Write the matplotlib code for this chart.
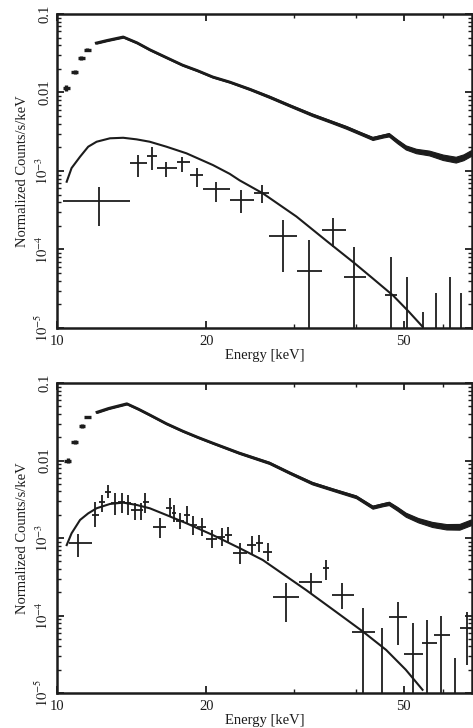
import numpy as np
import matplotlib
matplotlib.use('Agg')
import matplotlib.pyplot as plt
from matplotlib.ticker import FixedLocator, NullFormatter, LogLocator

plt.rcParams['font.family'] = ['Liberation Serif', 'DejaVu Serif']
plt.rcParams['mathtext.fontset'] = 'stix'

INK = '#1c1c1c'

# ---- top panel -------------------------------------------------------------
# bright source spectrum (energy keV, counts/s/keV, fractional band half-width)
top_src_E = [10.45, 10.85, 11.2, 11.5, 12.0, 12.6, 13.6, 14.5, 15.4, 16.6, 17.9, 19.2,
             20.6, 22.3, 24.5, 26.8, 29.5, 32.7, 35.5, 38.3, 41.0, 43.3, 45.5, 46.7,
             48.5, 50.5, 53.0, 56.3, 60.0, 63.7, 66.0, 68.4]
top_src_y = [0.0114, 0.0182, 0.0275, 0.035, 0.0427, 0.046, 0.051, 0.043, 0.035, 0.028,
             0.0224, 0.019, 0.0158, 0.0136, 0.011, 0.0088, 0.0068, 0.0052, 0.0043,
             0.0036, 0.0030, 0.0026, 0.0028, 0.0029, 0.0024, 0.0020, 0.0018, 0.0017,
             0.0015, 0.0014, 0.0015, 0.0017]
top_src_spread = [0.08, 0.06, 0.05, 0.04, 0.02, 0.02, 0.02, 0.02, 0.02, 0.02, 0.02, 0.02,
                  0.02, 0.02, 0.025, 0.03, 0.03, 0.035, 0.035, 0.04, 0.04, 0.045, 0.045,
                  0.05, 0.055, 0.06, 0.065, 0.07, 0.08, 0.085, 0.085, 0.085]

# model curve
top_mod_E = [10.46, 10.70, 11.13, 11.56, 12.02, 12.79, 13.60, 14.47, 15.38, 16.62, 18.24,
             20.63, 22.3, 23.35, 26.0, 30.4, 35.0, 39.8, 43.3, 47.6, 51.3, 54.6]
top_mod_y = [7.3e-4, 1.09e-3, 1.52e-3, 2.04e-3, 2.36e-3, 2.61e-3, 2.65e-3, 2.53e-3,
             2.36e-3, 2.04e-3, 1.68e-3, 1.19e-3, 9.2e-4, 7.6e-4, 5.2e-4, 2.63e-4,
             1.28e-4, 6.7e-5, 4.3e-5, 2.6e-5, 1.6e-5, 1.04e-5]

# faint source data points: centre, bin edges, value, error limits
top_dat_E = [12.15, 14.55, 15.52, 16.57, 17.84, 19.12, 20.97, 23.54, 25.85, 28.6, 32.3,
             36.1, 39.8, 47.2, 50.9, 54.6, 58.1, 61.9, 65.3]
top_dat_xlo = [10.28, 14.03, 15.17, 15.89, 17.45, 18.52, 19.67, 22.3, 25.0, 26.8, 30.5,
               34.3, 37.9, 45.8, 50.9, 54.6, 58.1, 61.9, 65.3]
top_dat_xhi = [14.03, 15.17, 15.89, 17.45, 18.52, 19.67, 22.3, 25.0, 26.8, 30.5, 34.3,
               38.3, 42.0, 48.5, 50.9, 54.6, 58.1, 61.9, 65.3]
top_dat_y = [4.15e-4, 1.26e-3, 1.55e-3, 1.09e-3, 1.30e-3, 8.9e-4, 5.9e-4, 4.3e-4, 5.2e-4,
             1.49e-4, 5.3e-5, 1.77e-4, 4.5e-5, 2.6e-5, 5e-6, 5e-6, 5e-6, 5e-6, 5e-6]
top_dat_ylo = [2.0e-4, 8.4e-4, 1.03e-3, 8.4e-4, 9.7e-4, 6.25e-4, 4.0e-4, 2.9e-4, 3.9e-4,
               5.2e-5, 5e-6, 1.08e-4, 5e-6, 5e-6, 5e-6, 5e-6, 5e-6, 5e-6, 5e-6]
top_dat_yhi = [6.25e-4, 1.60e-3, 2.02e-3, 1.30e-3, 1.51e-3, 1.09e-3, 7.2e-4, 5.7e-4, 6.6e-4,
               2.4e-4, 1.32e-4, 2.5e-4, 1.08e-4, 8.0e-5, 4.4e-5, 1.6e-5, 2.8e-5, 4.5e-5, 2.8e-5]

# ---- bottom panel ----------------------------------------------------------
bot_src_E = [10.52, 10.87, 11.23, 11.54, 12.04, 12.7, 13.83, 14.6, 15.39, 16.6, 17.92, 19.2,
             20.6, 23.3, 26.8, 29.5, 32.7, 36.0, 40.1, 43.3, 45.5, 46.7, 48.5, 50.5,
             53.5, 57.1, 61.0, 64.8, 68.4]
bot_src_y = [0.0100, 0.0173, 0.028, 0.0365, 0.042, 0.047, 0.054, 0.046, 0.0387, 0.030,
             0.024, 0.020, 0.0168, 0.0125, 0.0093, 0.0069, 0.0051, 0.0042, 0.0034, 0.0025,
             0.0027, 0.0028, 0.0024, 0.0020, 0.0017, 0.0015, 0.0014, 0.0014, 0.0016]
bot_src_spread = [0.08, 0.06, 0.05, 0.04, 0.02, 0.02, 0.02, 0.02, 0.02, 0.02, 0.02, 0.02,
                  0.02, 0.025, 0.03, 0.03, 0.035, 0.035, 0.04, 0.045, 0.045, 0.05, 0.055,
                  0.06, 0.065, 0.075, 0.08, 0.085, 0.085]

bot_mod_E = [10.46, 10.70, 11.13, 11.56, 12.02, 12.79, 13.60, 14.47, 15.38, 16.62, 18.24,
             20.63, 23.35, 26.0, 31.8, 36.5, 41.4, 46.1, 50.5, 54.6]
bot_mod_y = [8.1e-4, 1.15e-3, 1.71e-3, 2.08e-3, 2.42e-3, 2.75e-3, 2.86e-3, 2.67e-3,
             2.42e-3, 1.98e-3, 1.55e-3, 1.09e-3, 7.4e-4, 5.2e-4, 2.13e-4, 1.12e-4,
             6.2e-5, 3.6e-5, 2.0e-5, 1.1e-5]

bot_dat_E = [11.02, 11.93, 12.32, 12.67, 13.08, 13.5, 13.9, 14.35, 14.75, 15.05, 16.1,
             16.9, 17.2, 17.7, 18.3, 18.8, 19.6, 20.5, 21.5, 22.1, 23.4, 24.7, 25.6, 26.6,
             29.0, 32.6, 34.9, 37.6, 41.4, 45.3, 48.8, 52.3, 55.7, 59.5, 63.5, 67.0]
bot_dat_xlo = [10.56, 11.76, 12.15, 12.5, 12.85, 13.3, 13.7, 14.1, 14.6, 14.9, 15.6,
               16.6, 17.05, 17.4, 18.0, 18.55, 19.2, 20.0, 21.0, 21.8, 22.6, 24.2, 25.2,
               26.0, 27.3, 30.8, 34.4, 35.8, 39.4, 45.3, 46.7, 50.2, 54.4, 57.7, 63.5, 64.9]
bot_dat_xhi = [11.76, 12.15, 12.5, 12.85, 13.3, 13.7, 14.1, 14.6, 14.9, 15.3, 16.6,
               17.05, 17.4, 18.0, 18.55, 19.2, 20.0, 21.0, 21.8, 22.5, 24.2, 25.2, 26.0,
               27.2, 30.7, 34.3, 35.4, 39.7, 43.7, 45.3, 50.9, 54.6, 58.3, 61.9, 63.5, 68.7]
bot_dat_y = [8.6e-4, 2.0e-3, 2.9e-3, 3.9e-3, 2.8e-3, 2.9e-3, 2.8e-3, 2.3e-3, 2.3e-3,
             2.9e-3, 1.4e-3, 2.44e-3, 2.1e-3, 1.65e-3, 2.0e-3, 1.47e-3, 1.39e-3, 9.7e-4,
             1.03e-3, 1.1e-3, 6.4e-4, 8.1e-4, 8.5e-4, 6.5e-4, 1.73e-4, 2.7e-4, 4.1e-4,
             1.84e-4, 6.1e-5, 5e-6, 9.6e-5, 3.2e-5, 4.4e-5, 5.6e-5, 5e-6, 6.9e-5]
bot_dat_ylo = [5.7e-4, 1.4e-3, 2.16e-3, 3.28e-3, 1.98e-3, 2.1e-3, 1.98e-3, 1.71e-3, 1.71e-3,
               2.1e-3, 1.0e-3, 1.87e-3, 1.6e-3, 1.3e-3, 1.5e-3, 1.1e-3, 1.05e-3, 7.5e-4,
               8.0e-4, 8.5e-4, 4.6e-4, 6.2e-4, 6.5e-4, 5.0e-4, 8.2e-5, 1.95e-4, 2.87e-4,
               1.2e-4, 5e-6, 5e-6, 4.2e-5, 5e-6, 5e-6, 5e-6, 5e-6, 2.3e-5]
bot_dat_yhi = [1.14e-3, 2.9e-3, 3.59e-3, 4.8e-3, 3.8e-3, 3.8e-3, 3.59e-3, 2.83e-3, 2.83e-3,
               3.8e-3, 1.8e-3, 3.28e-3, 2.7e-3, 2.1e-3, 2.6e-3, 1.9e-3, 1.8e-3, 1.25e-3,
               1.35e-3, 1.4e-3, 8.5e-4, 1.05e-3, 1.1e-3, 8.5e-4, 2.6e-4, 3.5e-4, 5.2e-4,
               2.6e-4, 1.25e-4, 6.9e-5, 1.49e-4, 8.0e-5, 8.7e-5, 1.0e-4, 2.8e-5, 1.11e-4]

x_major = [10, 20, 50]
x_major_labels = ['10', '20', '50']
x_minor = [30, 40, 60]
y_major = [1e-5, 1e-4, 1e-3, 1e-2, 1e-1]
y_major_labels = [r'$10^{-5}$', r'$10^{-4}$', r'$10^{-3}$', '0.01', '0.1']


def draw_panel(ax, src_E, src_y, spread, mod_E, mod_y, d_E, d_xlo, d_xhi, d_y, d_ylo, d_yhi):
    src_E = np.array(src_E)
    src_y = np.array(src_y)
    spread = np.array(spread)
    n_dash = 4  # first few bins are separated dashes
    ax.errorbar(src_E[:n_dash], src_y[:n_dash], xerr=src_E[:n_dash] * 0.016,
                yerr=src_y[:n_dash] * spread[:n_dash], fmt='none', ecolor=INK, elinewidth=2.4)
    ax.fill_between(src_E[n_dash:], src_y[n_dash:] * (1 - spread[n_dash:]),
                    src_y[n_dash:] * (1 + spread[n_dash:]), color=INK, lw=0.8)
    ax.plot(src_E[n_dash:], src_y[n_dash:], color=INK, lw=2.0)

    ax.plot(mod_E, mod_y, color=INK, lw=1.5)

    d_E = np.array(d_E)
    d_y = np.array(d_y)
    xerr = [d_E - np.array(d_xlo), np.array(d_xhi) - d_E]
    yerr = [d_y - np.array(d_ylo), np.array(d_yhi) - d_y]
    ax.errorbar(d_E, d_y, xerr=xerr, yerr=yerr, fmt='none', ecolor=INK, elinewidth=1.3)

    ax.set_xscale('log')
    ax.set_yscale('log')
    ax.set_xlim(10, 68.7)
    ax.set_ylim(1e-5, 0.1)

    ax.xaxis.set_major_locator(FixedLocator(x_major))
    ax.set_xticklabels(x_major_labels)
    ax.xaxis.set_minor_locator(FixedLocator(x_minor))
    ax.xaxis.set_minor_formatter(NullFormatter())
    ax.yaxis.set_major_locator(FixedLocator(y_major))
    ax.set_yticklabels(y_major_labels)
    ax.yaxis.set_minor_locator(LogLocator(base=10, subs=np.arange(2, 10)))
    ax.yaxis.set_minor_formatter(NullFormatter())

    ax.tick_params(which='both', direction='in', top=True, right=True, colors=INK,
                   labelsize=10.5)
    ax.tick_params(which='major', length=5, width=1.3)
    ax.tick_params(which='minor', length=3, width=1.0)
    ax.tick_params(axis='x', pad=5)
    ax.tick_params(axis='y', pad=4, labelrotation=90)
    for lab in ax.get_yticklabels():
        lab.set_va('center')
    for sp in ax.spines.values():
        sp.set_linewidth(1.8)
        sp.set_color(INK)

    ax.set_xlabel('Energy [keV]', fontsize=10.5, color=INK, labelpad=1)
    ax.set_ylabel('Normalized Counts/s/keV', fontsize=10.5, color=INK, labelpad=4)


fig = plt.figure(figsize=(4.73, 7.28), dpi=100)
ax1 = fig.add_axes([57 / 473, (728 - 328) / 728, 415 / 473, 314 / 728])
ax2 = fig.add_axes([57 / 473, (728 - 693) / 728, 415 / 473, 310 / 728])

draw_panel(ax1, top_src_E, top_src_y, top_src_spread, top_mod_E, top_mod_y,
           top_dat_E, top_dat_xlo, top_dat_xhi, top_dat_y, top_dat_ylo, top_dat_yhi)
draw_panel(ax2, bot_src_E, bot_src_y, bot_src_spread, bot_mod_E, bot_mod_y,
           bot_dat_E, bot_dat_xlo, bot_dat_xhi, bot_dat_y, bot_dat_ylo, bot_dat_yhi)

fig.savefig('out.png', dpi=100)
